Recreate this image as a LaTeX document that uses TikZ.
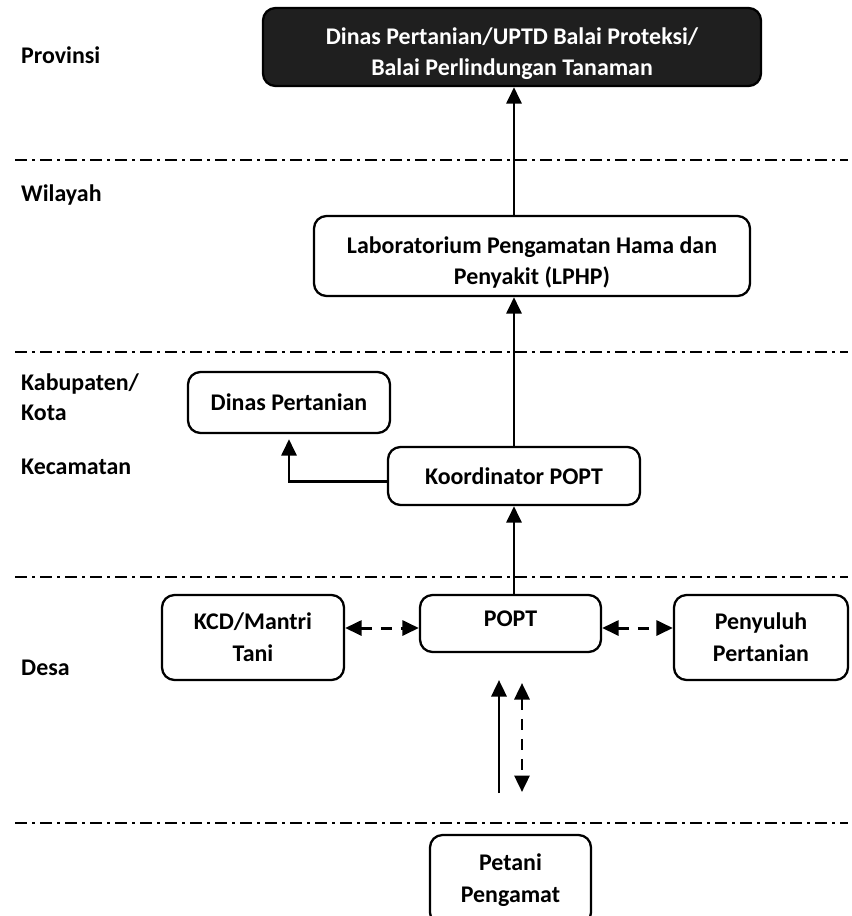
\documentclass[tikz,border=0pt]{standalone}
\usepackage{fontspec}
\setmainfont{Carlito}
\usetikzlibrary{arrows.meta,positioning,calc}
\newcommand{\lowstrut}{\rule{0pt}{17pt}}
\tikzset{
  >={Triangle[length=3.3mm,width=3mm]},
  every node/.style={font=\bfseries\fontsize{13.6}{18}\selectfont},
  box/.style={draw,rounded corners=2.5mm,line width=1.3pt,align=center,
    inner sep=2pt},
  topbox/.style={box,fill=black!88,text=white},
  flow/.style={->,line width=1.7pt},
  dflow/.style={<->,line width=1.7pt,dash pattern=on 2.2mm off 1.8mm},
  level/.style={line width=0.6pt,dash pattern=on 2.4mm off 1mm on 0.6mm off 1mm},
  lvllbl/.style={anchor=west,align=left},
}

\begin{document}
\begin{tikzpicture}
  \useasboundingbox (0,0) rectangle (17.04,-18.32);
  % tingkat
  \draw[level] (0.3,-3.2) -- (16.96,-3.2);
  \draw[level] (0.3,-7.04) -- (16.96,-7.04);
  \draw[level] (0.3,-11.54) -- (16.96,-11.54);
  \draw[level] (0.3,-16.46) -- (16.96,-16.46);
  \node[lvllbl] (prov) at (0.3,-1.1) {Provinsi};
  \node[lvllbl] (wil) at (0.3,-3.9) {Wilayah};
  \node[lvllbl] (kab) at (0.3,-7.94) {Kabupaten/\\[-1pt]Kota};
  \node[lvllbl] (kec) at (0.3,-9.34) {Kecamatan};
  \node[lvllbl] (desa) at (0.3,-13.36) {Desa};
  % kotak
  \node[topbox,minimum width=9.96cm,minimum height=1.56cm] (dinprov) at (10.24,-0.94)
    {\lowstrut Dinas Pertanian/UPTD Balai Proteksi/\\Balai Perlindungan Tanaman};
  \node[box,minimum width=8.72cm,minimum height=1.6cm] (lphp) at (10.64,-5.12)
    {\lowstrut Laboratorium Pengamatan Hama dan\\Penyakit (LPHP)};
  \node[box,minimum width=4.04cm,minimum height=1.22cm] (dinkab) at (5.78,-8.05)
    {Dinas Pertanian};
  \node[box,minimum width=5.04cm,minimum height=1.16cm] (koord) at (10.28,-9.52)
    {Koordinator POPT};
  \node[box,minimum width=3.64cm,minimum height=1.7cm] (kcd) at (5.06,-12.75)
    {KCD/Mantri\\Tani};
  \node[box,minimum width=3.62cm,minimum height=1.14cm,text depth=6pt] (popt) at (10.21,-12.47)
    {POPT};
  \node[box,minimum width=3.48cm,minimum height=1.7cm] (peny) at (15.22,-12.75)
    {Penyuluh\\Pertanian};
  \node[box,minimum width=3.22cm,minimum height=1.8cm] (petani) at (10.21,-17.6)
    {Petani\\Pengamat};
  % panah
  \draw[flow] (koord.north |- lphp.north) -- (koord.north |- dinprov.south);
  \draw[flow] (koord.north) -- (koord.north |- lphp.south);
  \draw[flow] (popt.north -| koord.north) -- (koord.south);
  \draw[flow,shorten >=1mm] ([yshift=-1mm]koord.west) -| (dinkab.south);
  \draw[dflow] ([yshift=1.9mm]kcd.east) -- ([yshift=1.9mm]kcd.east -| popt.west);
  \draw[dflow] ([yshift=1.9mm]peny.west -| popt.east) -- ([yshift=1.9mm]peny.west);
  \coordinate (pa) at (9.98,-15.86);
  \coordinate (pb) at (9.98,-13.6);
  \coordinate (qa) at (10.44,-13.66);
  \coordinate (qb) at (10.44,-15.84);
  \draw[flow] (pa) -- (pb);
  \draw[dflow] (qa) -- (qb);
\end{tikzpicture}
\end{document}
